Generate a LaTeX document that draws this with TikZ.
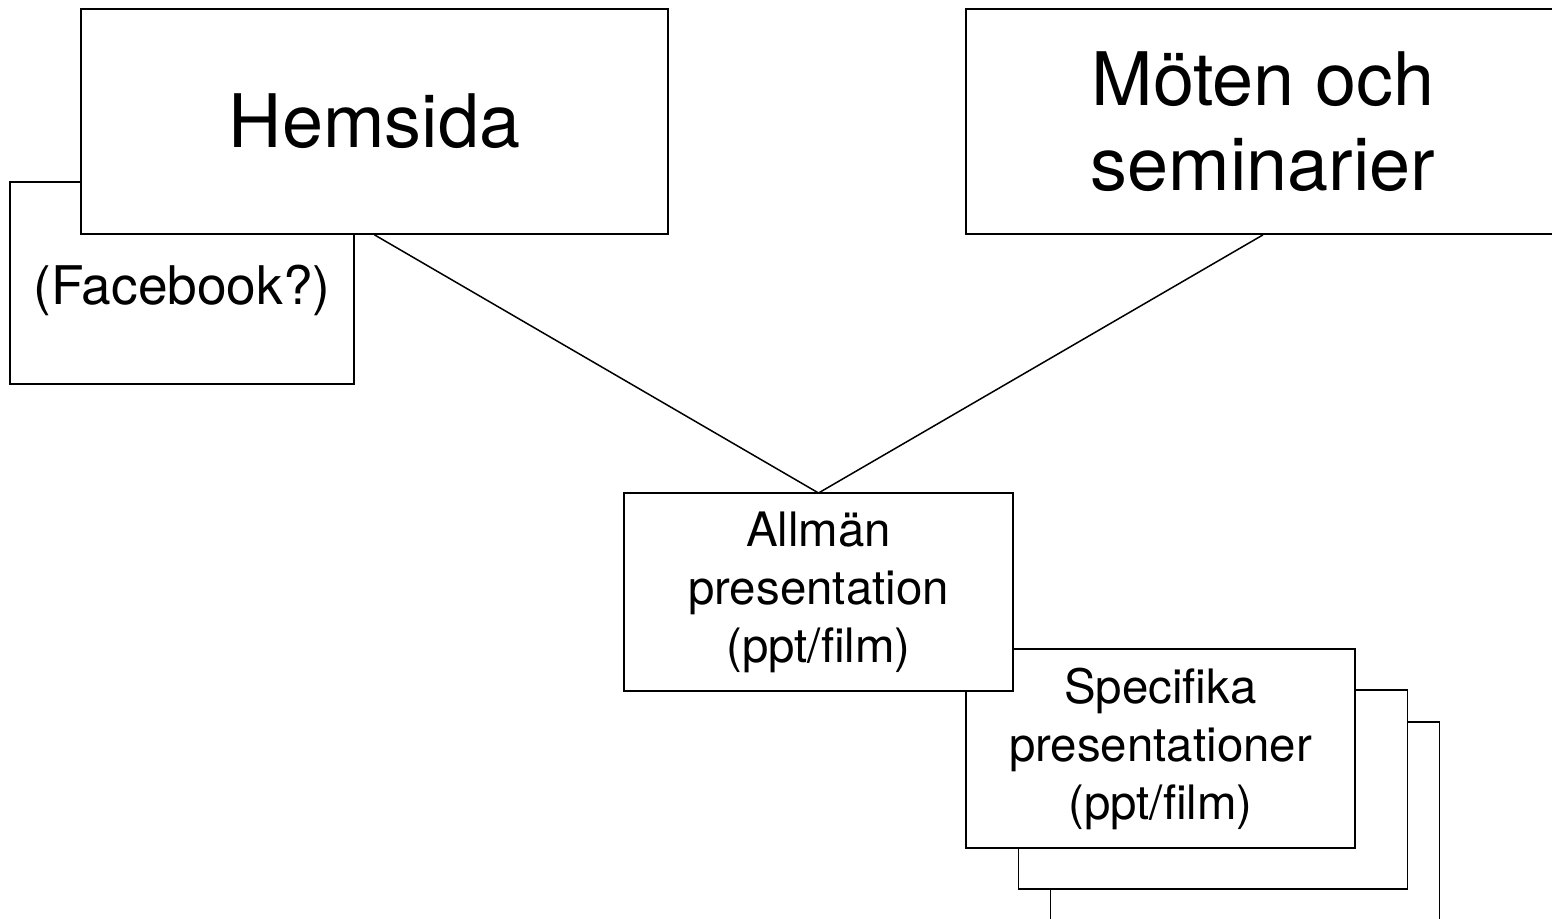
\documentclass[tikz,border=0pt]{standalone}
\usepackage{fontspec}
\setmainfont{TeX Gyre Heros}
\usetikzlibrary{positioning, calc, shapes}

\begin{document}
\begin{tikzpicture}[
  box/.style={draw, fill=white, line width=0.35mm, inner sep=0pt, align=center},
  bigbox/.style={box, minimum width=117.4mm, minimum height=45mm, font=\fontsize{42}{48.4}\selectfont},
  presbox/.style={box, minimum width=77.8mm, minimum height=39.7mm, font=\fontsize{27}{33}\selectfont}
]
\useasboundingbox (0mm,0mm) rectangle (310.4mm,183.6mm);

\node[box, minimum width=68.8mm, minimum height=40.4mm] (face) at (36.4mm,127mm) {};
\node[font=\fontsize{30.3}{36}\selectfont, inner sep=0pt] (facetext) at ([yshift=-1.4mm]face.center) {(Facebook?)};
\node[bigbox] (hem) at (74.9mm,159.3mm) {Hemsida};
\node[bigbox, minimum width=118.8mm] (mot) at (252.6mm,159.3mm) {Möten och\\seminarier};

\draw[line width=0.3mm] (hem.south) -- (163.7mm,85mm) coordinate (top);
\draw[line width=0.3mm] (mot.south) -- (top);

\node[presbox] (spec3) at (249mm,19.3mm) {};
\node[presbox] (spec2) at (242.6mm,25.7mm) {};
\node[presbox] (spec1) at (232.1mm,33.9mm) {Specifika\\presentationer\\(ppt/film)};

\node[presbox] (allm) at (163.7mm,65.2mm) {Allmän\\presentation\\(ppt/film)};

\end{tikzpicture}
\end{document}
